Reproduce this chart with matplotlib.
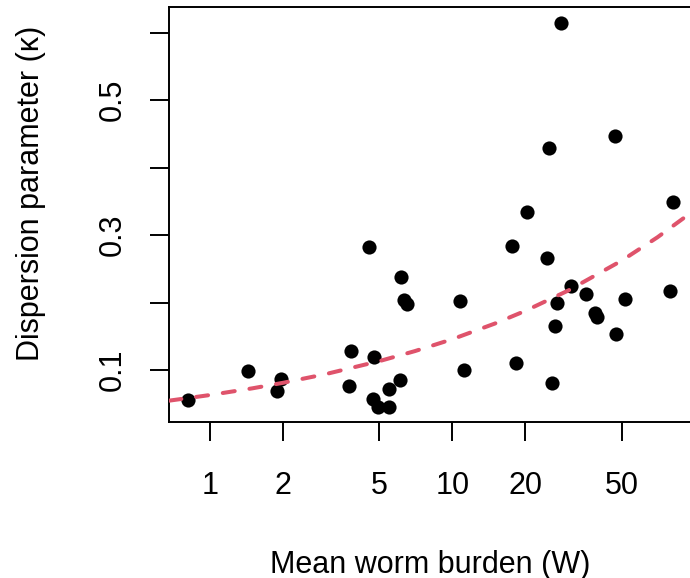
# Dispersion parameter vs mean worm burden, log x axis, with fitted curve.

import matplotlib
matplotlib.use("Agg")
import matplotlib.pyplot as plt
import numpy as np

# Observed points (mean worm burden W, dispersion parameter kappa)
worm_burden = [0.814, 1.439, 1.957, 1.885, 3.818, 3.758, 4.531, 4.737, 4.722,
               4.951, 5.463, 5.497, 6.084, 6.142, 6.320, 6.502, 10.76, 11.14,
               17.58, 18.26, 20.34, 24.44, 24.98, 25.71, 26.54, 26.96, 28.09,
               30.90, 35.63, 38.69, 39.30, 46.95, 47.24, 51.29, 78.64, 80.93]
kappa = [0.0561, 0.0990, 0.0867, 0.0684, 0.1286, 0.0758, 0.2829, 0.1192, 0.0571,
         0.0453, 0.0719, 0.0453, 0.0846, 0.2380, 0.2040, 0.1980, 0.2020, 0.1000,
         0.2843, 0.1108, 0.3337, 0.2657, 0.4284, 0.0807, 0.1645, 0.1991, 0.6148,
         0.2252, 0.2124, 0.1843, 0.1784, 0.4470, 0.1533, 0.2059, 0.2173, 0.3490]

# Fitted curve
curve_w = [0.68, 1, 1.5, 2, 3, 5, 7, 10, 15, 20, 30, 50, 70, 95]
curve_kappa = [0.0546, 0.0629, 0.0729, 0.0810, 0.0939, 0.1132, 0.1280, 0.1457,
               0.1690, 0.1877, 0.2177, 0.2623, 0.2966, 0.3315]

x_ticks = [1, 2, 5, 10, 20, 50]
y_ticks = [0.1, 0.2, 0.3, 0.4, 0.5, 0.6]
y_tick_labels = ["0.1", "", "0.3", "", "0.5", ""]

plt.rcParams["font.family"] = ["Liberation Sans", "DejaVu Sans"]

fig = plt.figure(figsize=(6.9, 5.78), dpi=100)
ax = fig.add_axes([0.2449, 0.2694, 1.0029 - 0.2449, 0.9874 - 0.2694])

ax.scatter(worm_burden, kappa, s=104, color="black", zorder=2, linewidths=0)
ax.plot(curve_w, curve_kappa, color="#DF536B", lw=2.9,
        linestyle=(0, (3.0, 3.7)), dash_capstyle="round", zorder=3)

ax.set_xscale("log")
ax.set_xlim(10 ** -0.169, 10 ** 1.988)
ax.set_ylim(0.0225, 0.6376)

ax.set_xticks(x_ticks)
ax.set_xticklabels([str(t) for t in x_ticks])
ax.xaxis.set_minor_locator(matplotlib.ticker.NullLocator())
ax.set_yticks(y_ticks)
ax.set_yticklabels(y_tick_labels, rotation=90, va="center")

ax.tick_params(direction="out", length=14, width=1.4, labelsize=22)
ax.tick_params(axis="x", pad=21)
ax.tick_params(axis="y", pad=15.5)
for spine in ax.spines.values():
    spine.set_linewidth(1.4)

ax.set_xlabel("Mean worm burden (W)", fontsize=22, labelpad=35)
fig.text(31 / 690, 1 - 193.5 / 578, "Dispersion parameter (κ)", rotation=90,
         ha="center", va="center", fontsize=22)

fig.savefig("out.png", dpi=100)
